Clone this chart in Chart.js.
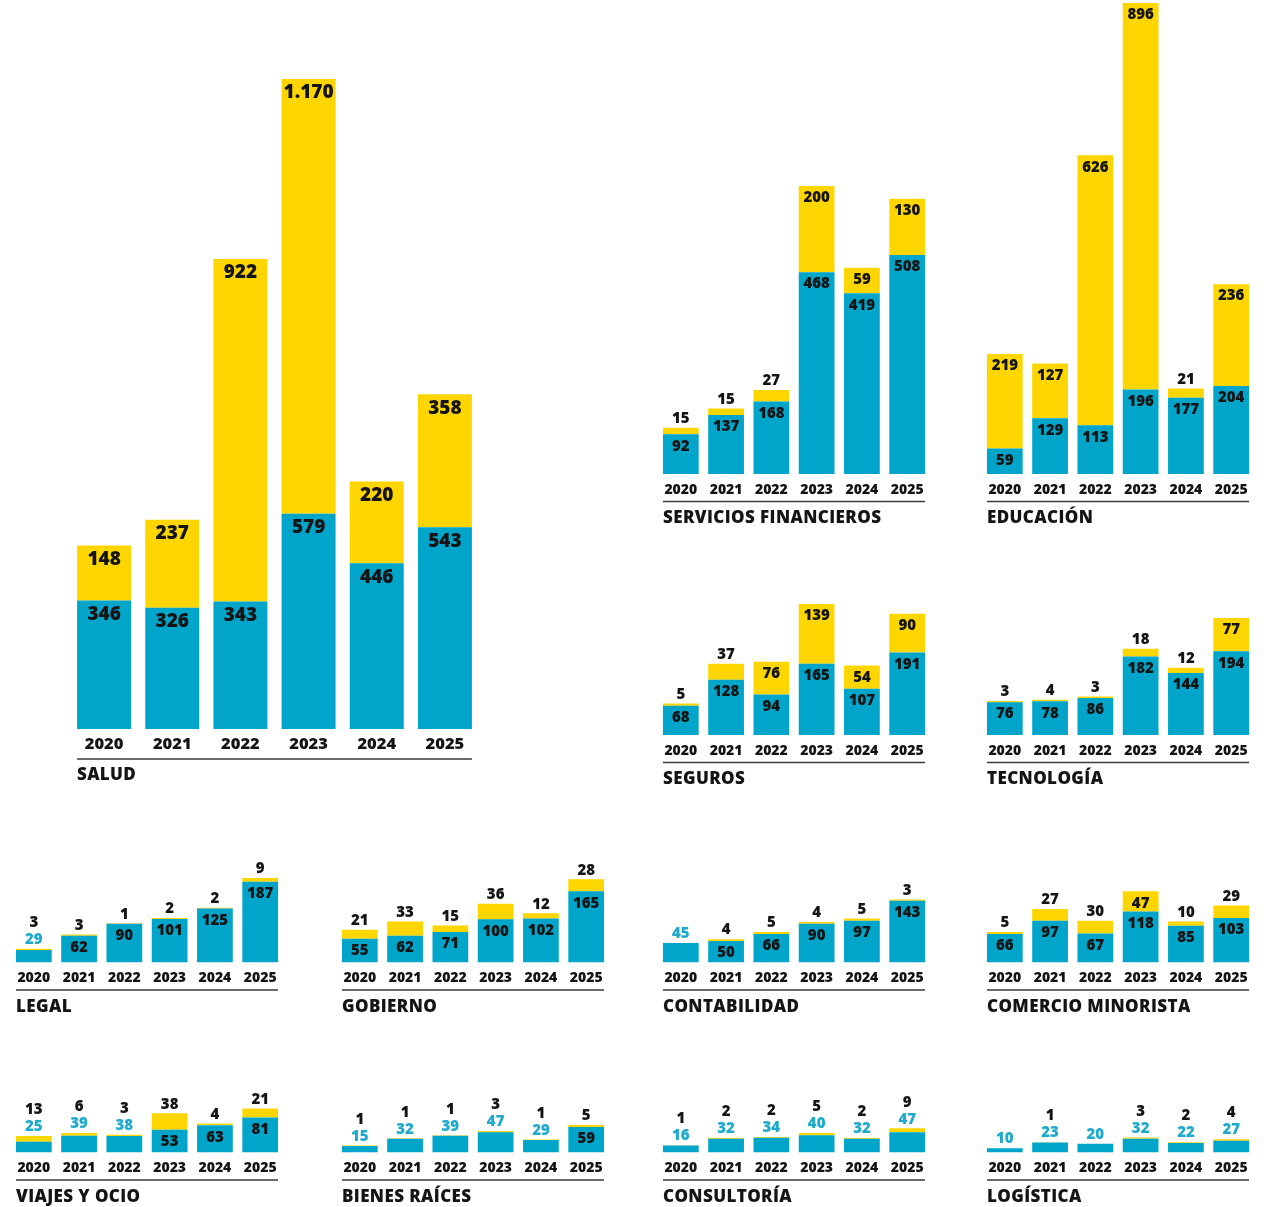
<!DOCTYPE html>
<html>
<head>
<meta charset="utf-8">
<script src="https://cdn.jsdelivr.net/npm/chart.js@4.4.1/dist/chart.umd.min.js"></script>
<style>
  html, body { margin: 0; padding: 0; background: #fff; }
  #board { position: relative; width: 1266px; height: 1207px; overflow: hidden; }
  #board canvas { position: absolute; }
</style>
</head>
<body>
<div id="board"></div>
<script>
// years on every panel
const years = ['2020', '2021', '2022', '2023', '2024', '2025'];

// blue = lower segment, yellow = upper segment (null = no segment)
const saludBlue = [346, 326, 343, 579, 446, 543];
const saludYellow = [148, 237, 922, 1170, 220, 358];
const finanzasBlue = [92, 137, 168, 468, 419, 508];
const finanzasYellow = [15, 15, 27, 200, 59, 130];
const educacionBlue = [59, 129, 113, 196, 177, 204];
const educacionYellow = [219, 127, 626, 896, 21, 236];
const segurosBlue = [68, 128, 94, 165, 107, 191];
const segurosYellow = [5, 37, 76, 139, 54, 90];
const tecnologiaBlue = [76, 78, 86, 182, 144, 194];
const tecnologiaYellow = [3, 4, 3, 18, 12, 77];
const legalBlue = [29, 62, 90, 101, 125, 187];
const legalYellow = [3, 3, 1, 2, 2, 9];
const gobiernoBlue = [55, 62, 71, 100, 102, 165];
const gobiernoYellow = [21, 33, 15, 36, 12, 28];
const contabilidadBlue = [45, 50, 66, 90, 97, 143];
const contabilidadYellow = [null, 4, 5, 4, 5, 3];
const comercioBlue = [66, 97, 67, 118, 85, 103];
const comercioYellow = [5, 27, 30, 47, 10, 29];
const viajesBlue = [25, 39, 38, 53, 63, 81];
const viajesYellow = [13, 6, 3, 38, 4, 21];
const bienesBlue = [15, 32, 39, 47, 29, 59];
const bienesYellow = [1, 1, 1, 3, 1, 5];
const consultoriaBlue = [16, 32, 34, 40, 32, 47];
const consultoriaYellow = [1, 2, 2, 5, 2, 9];
const logisticaBlue = [10, 23, 20, 32, 22, 27];
const logisticaYellow = [null, 1, null, 3, 2, 4];

const BLUE = '#00a5c9';
const YELLOW = '#fdd600';
const INK = '#141414';
const FONT = '"Open Sans", "Noto Sans", sans-serif';

// size presets: big panel (Salud) and the small ones
const BIG = { sp: 68.2, bw: 54, k: 0.3716, val: 19, year: 16.5, title: 17, titleSpacing: 0.3, yearPad: 5, lineOff: 30, titleOff: 46, inOff: 14 };
const SMALL = { sp: 45.6, bw: 36, k: 0.4313, val: 15, year: 14, title: 17, titleSpacing: 0.4, yearPad: 7.5, lineOff: 27.5, titleOff: 44.5, inOff: 12 };

const panels = [
  { title: 'SALUD', blue: saludBlue, yellow: saludYellow, x0: 77, base: 729, top: 60, s: BIG },
  { title: 'SERVICIOS FINANCIEROS', blue: finanzasBlue, yellow: finanzasYellow, x0: 662, base: 474, top: 0, s: SMALL },
  { title: 'EDUCACIÓN', blue: educacionBlue, yellow: educacionYellow, x0: 986, base: 474, top: 0, s: SMALL },
  { title: 'SEGUROS', blue: segurosBlue, yellow: segurosYellow, x0: 662, base: 735, top: 560, s: SMALL },
  { title: 'TECNOLOGÍA', blue: tecnologiaBlue, yellow: tecnologiaYellow, x0: 986, base: 735, top: 560, s: SMALL },
  { title: 'LEGAL', blue: legalBlue, yellow: legalYellow, x0: 15, base: 962.5, top: 840, s: SMALL },
  { title: 'GOBIERNO', blue: gobiernoBlue, yellow: gobiernoYellow, x0: 341, base: 962.5, top: 840, s: SMALL },
  { title: 'CONTABILIDAD', blue: contabilidadBlue, yellow: contabilidadYellow, x0: 662, base: 962.5, top: 840, s: SMALL },
  { title: 'COMERCIO MINORISTA', blue: comercioBlue, yellow: comercioYellow, x0: 986, base: 962.5, top: 840, s: SMALL },
  { title: 'VIAJES Y OCIO', blue: viajesBlue, yellow: viajesYellow, x0: 15, base: 1152.5, top: 1060, s: SMALL },
  { title: 'BIENES RAÍCES', blue: bienesBlue, yellow: bienesYellow, x0: 341, base: 1152.5, top: 1060, s: SMALL },
  { title: 'CONSULTORÍA', blue: consultoriaBlue, yellow: consultoriaYellow, x0: 662, base: 1152.5, top: 1060, s: SMALL },
  { title: 'LOGÍSTICA', blue: logisticaBlue, yellow: logisticaYellow, x0: 986, base: 1152.5, top: 1060, s: SMALL }
];

function fmt(n) {
  // spanish thousands separator, also for 4 digits
  return String(n).replace(/\B(?=(\d{3})+(?!\d))/g, '.');
}

// value labels inside or on top of the segments
const barLabels = {
  id: 'barLabels',
  afterDatasetsDraw(chart, args, opts) {
    const ctx = chart.ctx;
    const bMeta = chart.getDatasetMeta(0).data;
    const yMeta = chart.getDatasetMeta(1).data;
    const bVals = chart.data.datasets[0].data;
    const yVals = chart.data.datasets[1].data;
    ctx.save();
    ctx.font = `800 ${opts.size}px ${FONT}`;
    ctx.textAlign = 'center';
    ctx.textBaseline = 'middle';
    for (let i = 0; i < bVals.length; i++) {
      const b = bMeta[i];
      const hasY = yVals[i] != null;
      const y = yMeta[i];
      const stackTop = hasY ? y.y : b.y;
      let next = stackTop - 9;
      const bh = b.base - b.y;
      if (bh >= 21) {
        ctx.fillStyle = INK;
        ctx.fillText(fmt(bVals[i]), b.x, b.y + opts.inOff);
      } else {
        ctx.fillStyle = '#1faacd';
        ctx.fillText(fmt(bVals[i]), b.x, next);
        next -= 17;
      }
      if (hasY) {
        const yh = y.base - y.y;
        ctx.fillStyle = INK;
        if (yh >= 20) ctx.fillText(fmt(yVals[i]), y.x, y.y + opts.inOff);
        else ctx.fillText(fmt(yVals[i]), y.x, next);
      }
    }
    ctx.restore();
  }
};

// rule under the years and the panel title
const panelFoot = {
  id: 'panelFoot',
  afterDraw(chart, args, opts) {
    const ctx = chart.ctx;
    const a = chart.chartArea;
    ctx.save();
    ctx.strokeStyle = '#3a3a3a';
    ctx.lineWidth = 1.3;
    ctx.beginPath();
    ctx.moveTo(a.left + opts.gap, a.bottom + opts.lineOff);
    ctx.lineTo(a.right - opts.gap, a.bottom + opts.lineOff);
    ctx.stroke();
    ctx.fillStyle = INK;
    ctx.font = `800 ${opts.size}px ${FONT}`;
    ctx.letterSpacing = opts.spacing + 'px';
    ctx.textAlign = 'left';
    ctx.textBaseline = 'middle';
    ctx.fillText(opts.text, a.left + opts.gap, a.bottom + opts.titleOff);
    ctx.restore();
  }
};

const board = document.getElementById('board');
const FOOT = 62;

panels.forEach(p => {
  const s = p.s;
  const gap = (s.sp - s.bw) / 2;
  const plotH = p.base - p.top;
  const canvas = document.createElement('canvas');
  canvas.width = Math.round(6 * s.sp);
  canvas.height = Math.round(plotH + FOOT);
  canvas.style.left = (p.x0 - gap) + 'px';
  canvas.style.top = p.top + 'px';
  board.appendChild(canvas);

  new Chart(canvas, {
    type: 'bar',
    data: {
      labels: years,
      datasets: [
        { data: p.blue, backgroundColor: BLUE },
        { data: p.yellow, backgroundColor: YELLOW }
      ]
    },
    options: {
      responsive: false,
      animation: false,
      devicePixelRatio: 1,
      layout: { padding: 0 },
      datasets: { bar: { barPercentage: s.bw / s.sp, categoryPercentage: 1, borderWidth: 0 } },
      scales: {
        x: {
          stacked: true,
          grid: { display: false, drawTicks: false },
          border: { display: false },
          ticks: { color: INK, padding: s.yearPad, font: { family: FONT, size: s.year, weight: '800' } },
          afterFit: axis => { axis.height = canvas.height - plotH; }
        },
        y: {
          stacked: true,
          display: false,
          min: 0,
          max: plotH / s.k
        }
      },
      plugins: {
        legend: { display: false },
        tooltip: { enabled: false },
        barLabels: { size: s.val, inOff: s.inOff },
        panelFoot: { text: p.title, size: s.title, spacing: s.titleSpacing, gap: gap, lineOff: s.lineOff, titleOff: s.titleOff }
      }
    },
    plugins: [barLabels, panelFoot]
  });
});
</script>
</body>
</html>
